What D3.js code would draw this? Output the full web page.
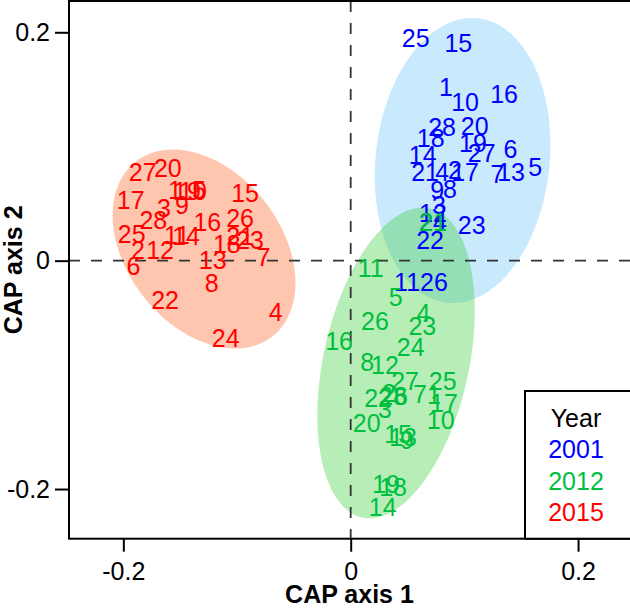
<!DOCTYPE html>
<html>
<head>
<meta charset="utf-8">
<script src="https://cdn.jsdelivr.net/npm/d3@7"></script>
<style>
  html, body { margin: 0; padding: 0; background: #fff; }
  svg { display: block; font-family: "Liberation Sans", Arial, Helvetica, sans-serif; }
</style>
</head>
<body>
<svg id="chart" width="630" height="608"></svg>
<script>
// ---- data ----
const years = ["2001", "2012", "2015"];
const yearColors = ["#0000FF", "#00BF40", "#FF0000"];
const ellipseFills = ["#87CEFA", "#32CD32", "#FFA07A"];
const ellipseOpacity = [0.45, 0.35, 0.6];

const labels2001 = ["1","2","3","4","5","6","7","8","9","10","11","12","13","14","15","16","17","18","19","20","21","22","23","24","25","26","27","28"];
const x2001 = [0.0839,0.0918,0.0777,0.0804,0.1622,0.1406,0.1292,0.0874,0.0760,0.1006,0.0496,0.0724,0.1411,0.0634,0.0947,0.1349,0.1006,0.0704,0.1076,0.1091,0.0654,0.0698,0.1065,0.0724,0.0572,0.0733,0.1153,0.0804];
const y2001 = [0.1521,0.0794,0.0487,0.0777,0.0823,0.0978,0.0763,0.0628,0.0619,0.1387,-0.0187,0.0417,0.0774,0.0925,0.1904,0.1457,0.0776,0.1072,0.1030,0.1179,0.0776,0.0181,0.0312,0.0339,0.1950,-0.0187,0.0945,0.1171];

const labels2012 = ["1","2","3","4","5","6","7","8","9","10","11","12","13","14","15","16","17","18","19","20","21","22","23","24","25","26","27","28"];
const x2012 = [0.0733,0.0337,0.0302,0.0639,0.0396,0.0443,0.0610,0.0146,0.0496,0.0792,0.0176,0.0302,0.0461,0.0282,0.0417,-0.0102,0.0821,0.0373,0.0311,0.0141,0.0724,0.0241,0.0630,0.0528,0.0810,0.0214,0.0478,0.0373];
const y2012 = [-0.1177,-0.1159,-0.1299,-0.0456,-0.0321,-0.1185,-0.1168,-0.0890,-0.1571,-0.1396,-0.0067,-0.0914,-0.1545,-0.2160,-0.1518,-0.0701,-0.1249,-0.1982,-0.1956,-0.1425,0.0339,-0.1203,-0.0572,-0.0759,-0.1051,-0.0529,-0.1051,-0.1185];

const labels2015 = ["1","2","3","4","5","6","7","8","9","10","11","12","13","14","15","16","17","18","19","20","21","22","23","24","25","26","27","28"];
const x2015 = [-0.1545,-0.1871,-0.1642,-0.0659,-0.1334,-0.1912,-0.0768,-0.1222,-0.1484,-0.1387,-0.1528,-0.1677,-0.1214,-0.1448,-0.0929,-0.1261,-0.1935,-0.1090,-0.1440,-0.1609,-0.0973,-0.1633,-0.0885,-0.1099,-0.1926,-0.0973,-0.1829,-0.1736];
const y2015 = [0.0619,0.0093,0.0461,-0.0452,0.0619,-0.0047,0.0035,-0.0198,0.0487,0.0613,0.0225,0.0093,0.0006,0.0216,0.0590,0.0341,0.0531,0.0146,0.0613,0.0814,0.0216,-0.0345,0.0181,-0.0680,0.0233,0.0371,0.0774,0.0356];

// ellipse: centre x, centre y, semi-axis a, semi-axis b, angle of a (degrees) — data units
const ellCx = [0.0984, 0.0399, -0.1290];
const ellCy = [0.0877, -0.0896, 0.0102];
const ellA = [0.1253, 0.1386, 0.0973];
const ellB = [0.0765, 0.0640, 0.0677];
const ellAngle = [83.8, 77.6, -51.6];

const xTicks = [-0.2, 0, 0.2];
const yTicks = [-0.2, 0, 0.2];
const xTitle = "CAP axis 1";
const yTitle = "CAP axis 2";
const legendTitle = "Year";

// ---- layout ----
const svg = d3.select("#chart");
const pLeft = 69, pRight = 630, pTop = 1, pBottom = 538.7;
const x = d3.scaleLinear().domain([-0.2478, 0.2457]).range([pLeft, pRight]);
const y = d3.scaleLinear().domain([-0.2435, 0.2274]).range([pBottom, pTop]);
const FS = 25;

// ellipses (order: red, blue, green)
const ellOrder = [2, 0, 1];
const ellLine = d3.line().x(d => x(d[0])).y(d => y(d[1])).curve(d3.curveLinearClosed);
ellOrder.forEach(i => {
  const phi = ellAngle[i] * Math.PI / 180;
  const pts = d3.range(0, 200).map(k => {
    const t = k / 200 * 2 * Math.PI;
    const ex = ellA[i] * Math.cos(t), ey = ellB[i] * Math.sin(t);
    return [ellCx[i] + ex * Math.cos(phi) - ey * Math.sin(phi),
            ellCy[i] + ex * Math.sin(phi) + ey * Math.cos(phi)];
  });
  svg.append("path").attr("d", ellLine(pts))
    .attr("fill", ellipseFills[i]).attr("fill-opacity", ellipseOpacity[i]).attr("stroke", "none");
});

// dashed zero lines
svg.append("line").attr("x1", pLeft).attr("x2", pRight).attr("y1", y(0)).attr("y2", y(0))
  .attr("stroke", "#333").attr("stroke-width", 1.8).attr("stroke-dasharray", "11,11");
svg.append("line").attr("x1", x(0)).attr("x2", x(0)).attr("y1", pTop).attr("y2", pBottom)
  .attr("stroke", "#333").attr("stroke-width", 1.8).attr("stroke-dasharray", "11,11");

// point labels
const groups = [
  {lab: labels2001, xs: x2001, ys: y2001, col: yearColors[0]},
  {lab: labels2012, xs: x2012, ys: y2012, col: yearColors[1]},
  {lab: labels2015, xs: x2015, ys: y2015, col: yearColors[2]}
];
groups.forEach(g => {
  svg.append("g").selectAll("text").data(g.lab).join("text")
    .attr("x", (d, i) => x(g.xs[i]))
    .attr("y", (d, i) => y(g.ys[i]))
    .attr("dy", "0.36em")
    .attr("text-anchor", "middle")
    .attr("font-size", FS)
    .attr("fill", g.col)
    .text(d => d);
});

// frame
svg.append("rect").attr("x", pLeft).attr("y", pTop).attr("width", pRight + 20 - pLeft).attr("height", pBottom - pTop)
  .attr("fill", "none").attr("stroke", "#000").attr("stroke-width", 2);

// axes
const fmt = d => d === 0 ? "0" : String(d);
const gx = svg.append("g").attr("transform", `translate(0,${pBottom})`)
  .call(d3.axisBottom(x).tickValues(xTicks).tickFormat(fmt).tickSize(13).tickPadding(11));
const gy = svg.append("g").attr("transform", `translate(${pLeft},0)`)
  .call(d3.axisLeft(y).tickValues(yTicks).tickFormat(fmt).tickSize(14).tickPadding(5));
[gx, gy].forEach(g => {
  g.select(".domain").remove();
  g.selectAll("line").attr("stroke", "#000").attr("stroke-width", 2);
  g.selectAll("text").attr("font-size", FS).attr("fill", "#000")
    .attr("font-family", "'Liberation Sans', Arial, sans-serif");
});

// axis titles
svg.append("text").attr("x", (pLeft + pRight) / 2).attr("y", 603)
  .attr("text-anchor", "middle").attr("font-size", FS).attr("font-weight", "bold").text(xTitle);
svg.append("text").attr("transform", `translate(22,${(pTop + pBottom) / 2}) rotate(-90)`)
  .attr("text-anchor", "middle").attr("font-size", FS).attr("font-weight", "bold").text(yTitle);

// legend
svg.append("rect").attr("x", 525).attr("y", 391).attr("width", 150).attr("height", pBottom - 391)
  .attr("fill", "#fff").attr("stroke", "#000").attr("stroke-width", 2);
const legItems = [legendTitle].concat(years);
const legCols = ["#000"].concat(yearColors);
svg.append("g").selectAll("text").data(legItems).join("text")
  .attr("x", 576).attr("y", (d, i) => 418 + i * 31.3).attr("dy", "0.36em")
  .attr("text-anchor", "middle").attr("font-size", FS)
  .attr("fill", (d, i) => legCols[i]).text(d => d);
</script>
</body>
</html>
